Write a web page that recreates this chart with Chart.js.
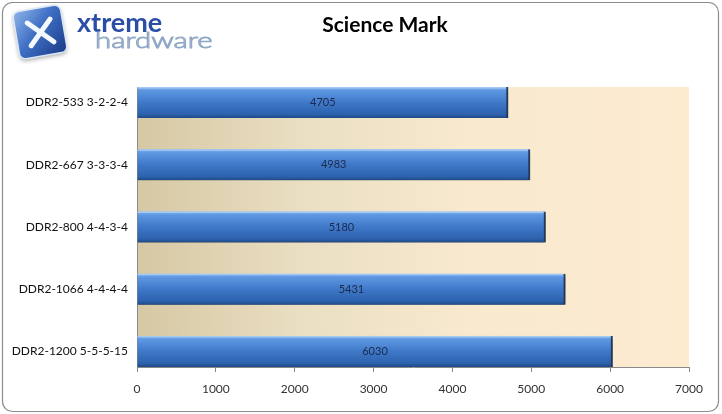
<!DOCTYPE html>
<html><head><meta charset="utf-8">
<script src="https://cdn.jsdelivr.net/npm/chart.js@4"></script>
<style>html,body{margin:0;padding:0;background:#fff;}#wrap{width:722px;height:414px;}</style>
</head><body><div id="wrap"><canvas id="c" width="722" height="414"></canvas></div>
<script>
const categories = ["DDR2-533 3-2-2-4","DDR2-667 3-3-3-4","DDR2-800 4-4-3-4","DDR2-1066 4-4-4-4","DDR2-1200 5-5-5-15"];
const scores = [4705, 4983, 5180, 5431, 6030];
const xTicks = [0,1000,2000,3000,4000,5000,6000,7000];
const chartTitle = "Science Mark";

const FONT = "Lato, 'Open Sans', sans-serif";

const frame = {
  id: 'frame',
  beforeDraw(chart) {
    const {ctx, chartArea: a} = chart;
    ctx.save();
    ctx.fillStyle = '#fff';
    ctx.fillRect(0,0,chart.width,chart.height);
    const g = ctx.createLinearGradient(a.left,0,a.right,0);
    g.addColorStop(0,'#d6c8a4');
    g.addColorStop(0.3,'#eadfc2');
    g.addColorStop(0.6,'#f8e9cf');
    g.addColorStop(1,'#fdebd0');
    ctx.fillStyle = g;
    ctx.fillRect(a.left,a.top,a.right-a.left,a.bottom-a.top);
    ctx.restore();
  },
  beforeDatasetDraw(chart) {
    const ctx = chart.ctx;
    ctx.save();
    ctx.shadowColor = 'rgba(60,40,20,0.45)';
    ctx.shadowBlur = 4;
    ctx.shadowOffsetX = 1;
    ctx.shadowOffsetY = 3;
  },
  afterDatasetDraw(chart) {
    chart.ctx.restore();
  },
  afterDatasetsDraw(chart) {
    const ctx = chart.ctx;
    const meta = chart.getDatasetMeta(0);
    ctx.save();
    meta.data.forEach((el) => {
      const top = el.y - el.height/2;
      ctx.fillStyle = 'rgba(170,205,245,0.9)';
      ctx.fillRect(el.base, top, el.x - el.base - 2, 1.5);
    });
    ctx.font = "11px " + FONT;
    ctx.fillStyle = '#1c2a4a';
    ctx.textAlign = 'center';
    ctx.textBaseline = 'middle';
    meta.data.forEach((el, i) => {
      ctx.fillText(String(scores[i]), (el.x + el.base)/2, el.y);
    });
    ctx.restore();
  },
  afterDraw(chart) {
    const ctx = chart.ctx;
    ctx.save();
    ctx.font = "bold 21px " + FONT;
    ctx.fillStyle = '#000';
    ctx.textAlign = 'center';
    ctx.textBaseline = 'middle';
    ctx.fillText(chartTitle, 385, 25);
    // logo square
    ctx.save();
    ctx.translate(40, 32);
    ctx.rotate(-0.17);
    ctx.shadowColor = 'rgba(0,0,0,0.35)';
    ctx.shadowBlur = 4; ctx.shadowOffsetY = 2;
    const lg = ctx.createLinearGradient(-24,-24,24,24);
    lg.addColorStop(0,'#8fb6ea');
    lg.addColorStop(0.45,'#3f6fc4');
    lg.addColorStop(1,'#1b3a86');
    ctx.fillStyle = lg;
    ctx.beginPath();
    ctx.roundRect(-24,-24,48,48,6);
    ctx.fill();
    ctx.shadowColor = 'transparent';
    ctx.strokeStyle = '#dde8f6';
    ctx.lineWidth = 1.5;
    ctx.stroke();
    ctx.strokeStyle = '#f4f8ff';
    ctx.lineWidth = 5;
    ctx.lineCap = 'round';
    ctx.beginPath();
    ctx.moveTo(-11,-11); ctx.lineTo(12,12);
    ctx.moveTo(12,-11); ctx.lineTo(-11,12);
    ctx.stroke();
    ctx.restore();
    // logo text
    ctx.textAlign = 'left';
    ctx.textBaseline = 'alphabetic';
    ctx.font = "bold 27px " + FONT;
    ctx.fillStyle = '#2a4ea6';
    ctx.fillText('xtreme', 77, 32);
    ctx.save();
    ctx.translate(95, 48);
    ctx.scale(1.4, 1);
    ctx.font = "300 21px " + FONT;
    ctx.fillStyle = '#ffffff';
    ctx.fillText('hardware', 0, 0);
    ctx.strokeStyle = '#8fa6c6';
    ctx.lineWidth = 0.9;
    ctx.strokeText('hardware', 0, 0);
    ctx.restore();
    // frame border
    ctx.strokeStyle = '#8c8c8c';
    ctx.lineWidth = 1.2;
    ctx.beginPath();
    ctx.roundRect(2.5, 2.5, 716, 409, 10);
    ctx.stroke();
    ctx.restore();
  }
};

function barFill(context) {
  const chart = context.chart;
  const y = chart.scales && chart.scales.y;
  if (!chart.chartArea || !y) return '#3b74c4';
  const cy = y.getPixelForValue(context.dataIndex);
  const t = cy - 15.5, b = cy + 15.5;
  const g = chart.ctx.createLinearGradient(0, t, 0, b);
  g.addColorStop(0, '#7fb0ee');
  g.addColorStop(0.12, '#5d96e0');
  g.addColorStop(0.5, '#3f78c8');
  g.addColorStop(0.88, '#2d62ad');
  g.addColorStop(1, '#1f4885');
  return g;
}

new Chart(document.getElementById('c'), {
  type: 'bar',
  data: {
    datasets: [{
      data: scores.map((v, i) => ({x: v, y: i})),
      backgroundColor: barFill,
      borderColor: '#1d3d6e',
      borderWidth: {top: 0, right: 2, bottom: 0, left: 0},
      borderSkipped: false,
      barThickness: 31
    }]
  },
  plugins: [frame],
  options: {
    indexAxis: 'y',
    responsive: false,
    animation: false,
    layout: {padding: {left: 0, top: 87, right: 33, bottom: 0}},
    plugins: {legend: {display: false}, tooltip: {enabled: false}, title: {display: false}},
    scales: {
      x: {
        type: 'linear',
        min: 0, max: 7000,
        offset: false,
        afterBuildTicks: (s) => { s.ticks = xTicks.map(v => ({value: v})); },
        afterFit: (s) => { s.height = 47; },
        grid: {display: true, drawOnChartArea: false, drawTicks: true, tickLength: 5, color: '#8a8a8a'},
        border: {display: true, color: '#8a8a8a', width: 1},
        ticks: {font: {family: FONT, size: 12}, color: '#333', padding: 10, maxRotation: 0,
          callback: (v) => String(v)}
      },
      y: {
        type: 'linear',
        min: -0.25, max: 4.25,
        reverse: true,
        offset: false,
        afterBuildTicks: (s) => { s.ticks = categories.map((c, i) => ({value: i})); },
        afterFit: (s) => { s.width = 137; },
        grid: {display: false, drawTicks: false, offset: false},
        border: {display: true, color: '#8a8a8a', width: 1},
        ticks: {font: {family: FONT, size: 12}, color: '#111', padding: 9,
          callback: (v) => categories[v] !== undefined ? categories[v] : ''}
      }
    }
  }
});
</script>
</body></html>
